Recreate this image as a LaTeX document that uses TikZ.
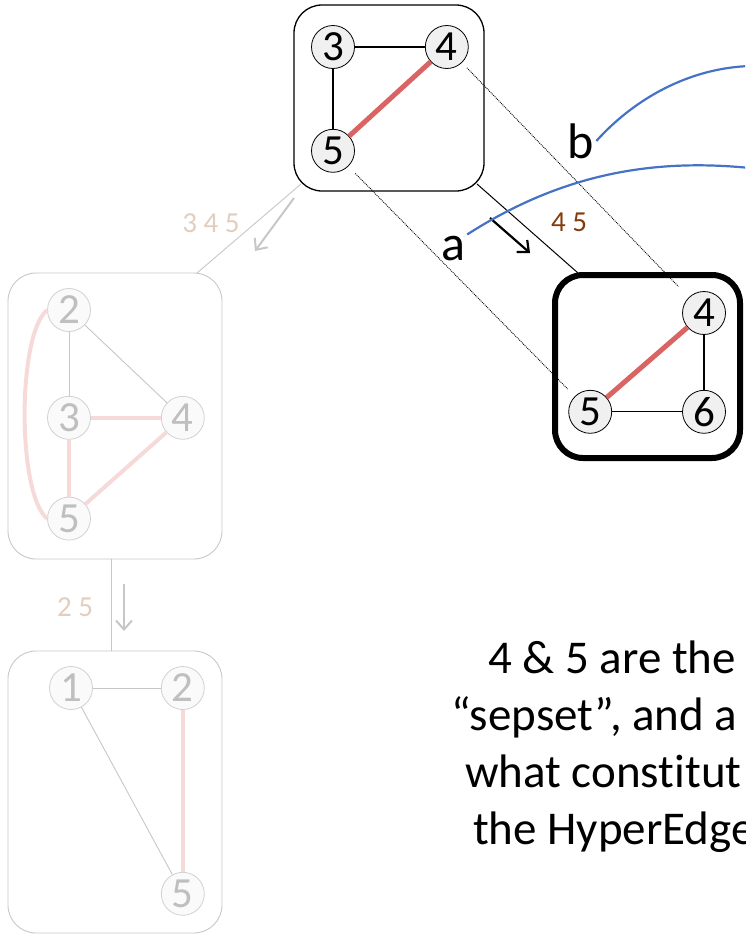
\documentclass[tikz,border=0pt]{standalone}
\usepackage{fontspec}
\setmainfont{Carlito}[Ligatures=CommonOff]
\usetikzlibrary{arrows.meta,positioning}
\definecolor{edgered}{RGB}{218,100,100}
\definecolor{fadepink}{RGB}{246,218,218}
\definecolor{sepbrown}{RGB}{132,60,12}
\definecolor{septan}{RGB}{226,206,190}
\definecolor{curveblue}{RGB}{68,114,196}

\begin{document}
\begin{tikzpicture}[
    x=1pt, y=-1pt,
    vtx/.style={circle, draw, line width=0.8pt, fill=black!6, minimum size=43pt, inner sep=0pt, font=\fontsize{43}{43}\selectfont},
    ghost/.style={vtx, draw=black!18, fill=black!2, text=black!25},
    clique/.style={draw, rounded corners=28pt, line width=1.3pt},
    faded/.style={clique, draw=black!22, line width=0.9pt},
    sep/.style={inner sep=0pt, font=\fontsize{29}{29}\selectfont},
    letter/.style={inner sep=2pt, font=\fontsize{50}{50}\selectfont},
    body/.style={anchor=base west, inner sep=0pt, font=\fontsize{47}{56}\selectfont},
    plain/.style={line width=1.1pt},
    hot/.style={edgered, line width=5pt},
    dim/.style={black!22, line width=0.9pt},
    cold/.style={fadepink, line width=4pt},
    guide/.style={densely dotted, line width=0.9pt},
    pointer/.style={curveblue, line width=2.2pt},
    every path/.style={>={Straight Barb[length=9pt, width=16pt]}}]
    \useasboundingbox (0,0) rectangle (745,935);
    \clip (0,0) rectangle (745,935);

    % top clique
    \node[clique, minimum width=190pt, minimum height=186pt] (top) at (389,98) {};
    \node[vtx] (t3) at (333,47) {3};
    \node[vtx, right=70pt of t3] (t4) {4};
    \node[vtx, below=60pt of t3] (t5) {5};
    \draw[plain] (t3) -- (t4); \draw[plain] (t3) -- (t5); \draw[hot] (t4) -- (t5);

    % current clique
    \node[clique, line width=6pt, minimum width=185pt, minimum height=183pt] (cur) at (647.5,366.5) {};
    \node[vtx] (r4) at (704,313) {4};
    \node[vtx, below=55pt of r4] (r6) {6};
    \node[vtx, left=70pt of r6] (r5) {5};
    \draw[plain] (r4) -- (r6); \draw[plain] (r5) -- (r6); \draw[hot] (r4) -- (r5);

    % faded cliques
    \node[faded, minimum width=214pt, minimum height=286pt] (mid) at (115,416) {};
    \node[ghost] (g2) at (69,310) {2};
    \node[ghost, below=64pt of g2] (g3) {3};
    \node[ghost, right=70pt of g3] (g4) {4};
    \node[ghost, below=57pt of g3] (g5) {5};
    \draw[dim] (g2) -- (g3); \draw[dim] (g2) -- (g4);
    \draw[cold] (g3) -- (g4); \draw[cold] (g3) -- (g5); \draw[cold] (g4) -- (g5);
    \draw[cold] (g2.west) .. controls +(-30,25) and +(-30,-25) .. (g5.west);

    \node[faded, minimum width=214pt, minimum height=282pt] (low) at (115,792) {};
    \node[ghost] (h1) at (71,688) {1};
    \node[ghost, right=68pt of h1] (h2) {2};
    \node[ghost, below=162pt of h2] (h5) {5};
    \draw[dim] (h1) -- (h2); \draw[dim] (h1) -- (h5); \draw[cold] (h2) -- (h5);

    % sepsets
    \coordinate (topSW) at (301,184); \coordinate (midNE) at (197,273);
    \coordinate (topSE) at (477,184); \coordinate (curNW) at (578,273);
    \coordinate (midS) at (111,559); \coordinate (lowN) at (111,651);
    \draw[dim] (topSW) -- (midNE);
    \draw[plain, line width=1pt] (topSE) -- (curNW);
    \draw[dim] (midS) -- (lowN);
    \node[sep, text=septan] (s345) at (211,223) {3 4 5};
    \node[sep, text=sepbrown] (s45) at (569,222) {4 5};
    \node[sep, text=septan] (s25) at (75,607) {2 5};
    \coordinate (d1) at (294,198); \coordinate (d2) at (255,251);
    \coordinate (d3) at (490,218); \coordinate (d4) at (530,253);
    \coordinate (d5) at (124,584); \coordinate (d6) at (124,631);
    \draw[->, black!22, line width=2pt] (d1) -- (d2);
    \draw[->, line width=2.2pt] (d3) -- (d4);
    \draw[->, black!22, line width=2pt] (d5) -- (d6);

    \draw[guide, shorten <=7pt, shorten >=15pt] (t4) -- (r4);
    \draw[guide, shorten <=10pt, shorten >=10pt] (t5) -- (r5);

    % pointers
    \node[letter] (la) at (453,249) {a};
    \node[letter] (lb) at (581,141) {b};
    \coordinate (aOut) at (750,168); \coordinate (bOut) at (750,66);
    \draw[pointer] (la.north east) .. controls (560,175) and (650,158) .. (aOut);
    \draw[pointer] (lb.east) .. controls (635,98) and (690,68) .. (bOut);

    \node[body] (l1) at (488,673) {4 \& 5 are the};
    \node[body] (l2) at (451,730) {“sepset”, and a};
    \node[body] (l3) at (465,787) {what constitut};
    \node[body] (l4) at (473,844) {the HyperEdge};
\end{tikzpicture}
\end{document}
